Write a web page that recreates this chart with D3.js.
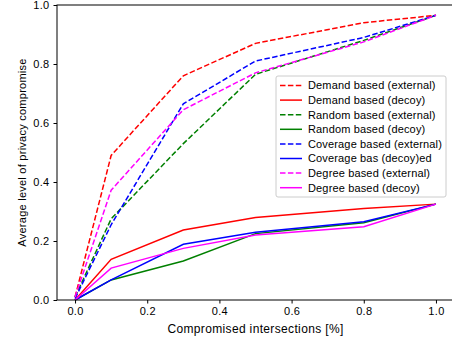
<!DOCTYPE html>
<html>
<head>
<meta charset="utf-8">
<script src="https://cdn.jsdelivr.net/npm/d3@7"></script>
<style>
  body { margin: 0; background: #fff; }
  text { font-family: "Liberation Sans", Arial, sans-serif; }
</style>
</head>
<body>
<div class="root"></div>
<script>
const xValues = [0, 0.1, 0.3, 0.5, 0.8, 1.0];
const demandExternal = [0.01, 0.49, 0.76, 0.87, 0.94, 0.965];
const demandDecoy = [0.0, 0.138, 0.237, 0.28, 0.31, 0.325];
const randomExternal = [0.01, 0.275, 0.53, 0.765, 0.88, 0.965];
const randomDecoy = [0.0, 0.068, 0.132, 0.225, 0.262, 0.325];
const coverageExternal = [0.005, 0.255, 0.665, 0.81, 0.89, 0.965];
const coverageDecoy = [0.0, 0.068, 0.189, 0.23, 0.265, 0.325];
const degreeExternal = [0.01, 0.372, 0.645, 0.77, 0.875, 0.965];
const degreeDecoy = [0.0, 0.108, 0.175, 0.22, 0.248, 0.325];
const xTicks = [0, 0.2, 0.4, 0.6, 0.8, 1.0];
const yTicks = [0, 0.2, 0.4, 0.6, 0.8, 1.0];

const series = [
  { name: 'Demand based (external)', values: demandExternal, color: '#ff0000', dashed: true },
  { name: 'Demand based (decoy)', values: demandDecoy, color: '#ff0000', dashed: false },
  { name: 'Random based (external)', values: randomExternal, color: '#008000', dashed: true },
  { name: 'Random based (decoy)', values: randomDecoy, color: '#008000', dashed: false },
  { name: 'Coverage based (external)', values: coverageExternal, color: '#0000ff', dashed: true },
  { name: 'Coverage bas (decoy)ed', values: coverageDecoy, color: '#0000ff', dashed: false },
  { name: 'Degree based (external)', values: degreeExternal, color: '#ff00ff', dashed: true },
  { name: 'Degree based (decoy)', values: degreeDecoy, color: '#ff00ff', dashed: false }
];

const svgWidth = 452;
const svgHeight = 341;
const margin = { top: 5, right: -2, bottom: 41, left: 57 };
const width = svgWidth - margin.left - margin.right;
const height = svgHeight - margin.top - margin.bottom;

const svg = d3.select('.root')
  .append('svg')
  .attr('width', svgWidth)
  .attr('height', svgHeight);

const g = svg.append('g')
  .attr('transform', `translate(${margin.left}, ${margin.top})`);

const x = d3.scaleLinear().domain([-0.05, 1.05]).range([0, width]);
const y = d3.scaleLinear().domain([0, 1]).range([height, 0]);

const line = d3.line()
  .x((d, i) => x(xValues[i]))
  .y(d => y(d));

// lines
series.forEach(s => {
  g.append('path')
    .attr('d', line(s.values))
    .attr('fill', 'none')
    .attr('stroke', s.color)
    .attr('stroke-width', 1.5)
    .attr('stroke-dasharray', s.dashed ? '5.5,2.4' : null);
});

// frame
g.append('rect')
  .attr('width', width)
  .attr('height', height)
  .attr('fill', 'none')
  .attr('stroke', '#000')
  .attr('stroke-width', 1);

const xAxis = g.append('g')
  .attr('transform', `translate(0, ${height})`)
  .call(d3.axisBottom(x).tickValues(xTicks).tickFormat(d3.format('.1f')).tickSize(3.5).tickPadding(4));
const yAxis = g.append('g')
  .call(d3.axisLeft(y).tickValues(yTicks).tickFormat(d3.format('.1f')).tickSize(3.5).tickPadding(4));

[xAxis, yAxis].forEach(a => {
  a.select('.domain').remove();
  a.selectAll('text').attr('font-size', 11).attr('fill', '#000')
    .attr('letter-spacing', 0.3)
    .attr('font-family', '"Liberation Sans", Arial, sans-serif');
});

svg.append('text')
  .attr('x', margin.left + x(0.5))
  .attr('y', 333)
  .attr('text-anchor', 'middle')
  .attr('font-size', 12)
  .attr('letter-spacing', 0.35)
  .text('Compromised intersections [%]');

svg.append('text')
  .attr('transform', `translate(26, ${margin.top + height / 2}) rotate(-90)`)
  .attr('text-anchor', 'middle')
  .attr('font-size', 11)
  .attr('letter-spacing', 0.25)
  .text('Average level of privacy compromise');

// legend
const legend = svg.append('g').attr('transform', 'translate(276, 76)');
legend.append('rect')
  .attr('width', 170)
  .attr('height', 121)
  .attr('rx', 2)
  .attr('fill', 'rgba(255,255,255,0.8)')
  .attr('stroke', '#ccc');

series.forEach((s, i) => {
  const row = legend.append('g').attr('transform', `translate(0, ${9.5 + i * 14.6})`);
  row.append('line')
    .attr('x1', 4).attr('x2', 26)
    .attr('stroke', s.color)
    .attr('stroke-width', 1.5)
    .attr('stroke-dasharray', s.dashed ? '5.5,2.4' : null);
  row.append('text')
    .attr('x', 32)
    .attr('dy', '0.35em')
    .attr('font-size', 11)
    .attr('letter-spacing', 0.15)
    .text(s.name);
});
</script>
</body>
</html>
